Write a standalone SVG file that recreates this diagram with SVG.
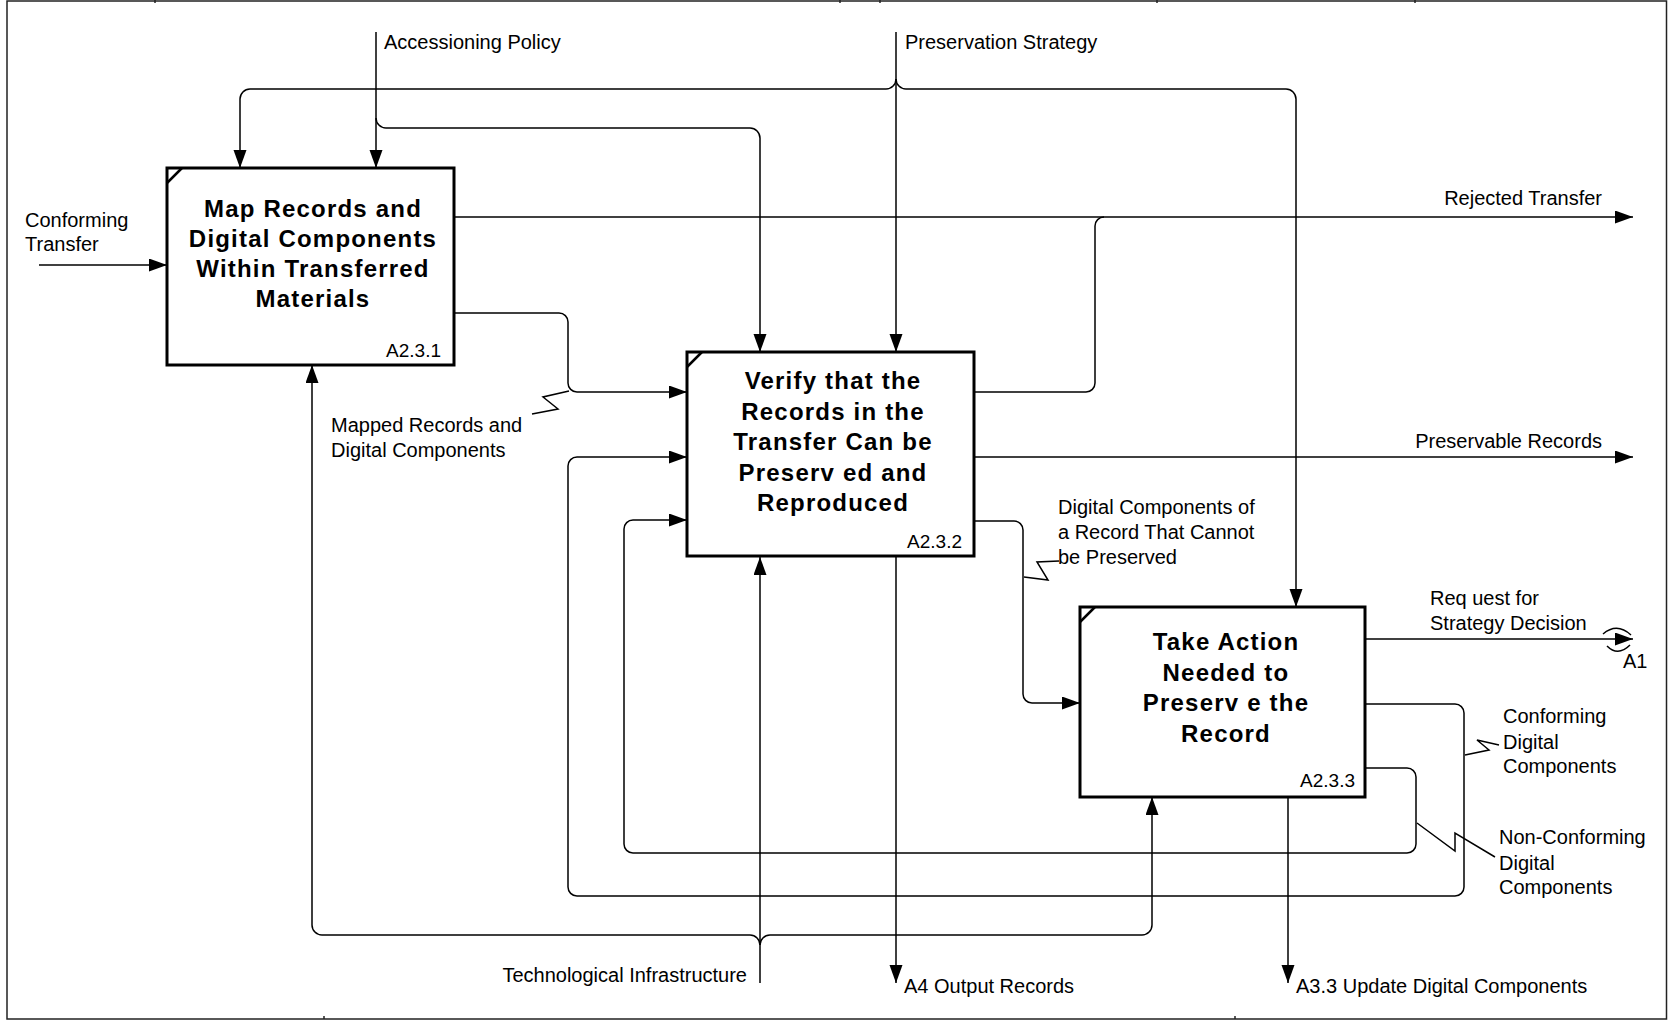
<svg xmlns="http://www.w3.org/2000/svg" width="1669" height="1021" viewBox="0 0 1669 1021">
<style>
.frame{fill:none;stroke:#222;stroke-width:1.5}
.box{fill:#fff;stroke:#000;stroke-width:3}
.corner{fill:none;stroke:#000;stroke-width:2.5}
.c{fill:none;stroke:#000;stroke-width:1.5}
.a{marker-end:url(#arr)}
.title{font-family:"Liberation Sans",Arial,sans-serif;font-size:24px;font-weight:bold;text-anchor:middle;letter-spacing:1.2px;fill:#000}
.num{font-family:"Liberation Sans",Arial,sans-serif;font-size:19px;text-anchor:end;fill:#000}
.lbl{font-family:"Liberation Sans",Arial,sans-serif;font-size:20px;fill:#000}
.end{text-anchor:end}
</style>
<defs>
<marker id="arr" markerUnits="userSpaceOnUse" markerWidth="18" markerHeight="14" refX="18" refY="6.5" orient="auto">
<path d="M0,0 L18,6.5 L0,13 z" fill="#000"/>
</marker>
</defs>
<rect class="frame" x="7" y="1" width="1659.5" height="1018"/>
<g class="frame">
<line x1="155" y1="0" x2="155" y2="3"/>
<line x1="840" y1="0" x2="840" y2="3"/>
<line x1="880" y1="0" x2="880" y2="3"/>
<line x1="1157" y1="0" x2="1157" y2="3"/>
<line x1="1415" y1="0" x2="1415" y2="3"/>
<line x1="324" y1="1016" x2="324" y2="1019"/>
<line x1="1235" y1="1016" x2="1235" y2="1019"/>
</g>
<g id="connectors">
<path class="c a" d="M39,265 L167,265"/>
<path class="c a" d="M376,32 L376,168"/>
<path class="c a" d="M376,118 A10,10 0 0 0 386,128 L750,128 A10,10 0 0 1 760,138 L760,352"/>
<path class="c a" d="M896,32 L896,352"/>
<path class="c a" d="M896,79 A10,10 0 0 1 886,89 L250,89 A10,10 0 0 0 240,99 L240,168"/>
<path class="c a" d="M896,79 A10,10 0 0 0 906,89 L1286,89 A10,10 0 0 1 1296,99 L1296,607"/>
<path class="c a" d="M454,217 L1633,217"/>
<path class="c" d="M974,392 L1086,392 A9,9 0 0 0 1095,383 L1095,226 A9,9 0 0 1 1104,217"/>
<path class="c a" d="M454,313 L559,313 A9,9 0 0 1 568,322 L568,383 A9,9 0 0 0 577,392 L687,392"/>
<path class="c" d="M532,414 L558,409 L543,397 L569,391"/>
<path class="c a" d="M974,457 L1633,457"/>
<path class="c a" d="M974,521 L1014,521 A9,9 0 0 1 1023,530 L1023,694 A9,9 0 0 0 1032,703 L1080,703"/>
<path class="c" d="M1024,577 L1048,580 L1037,562 L1059,561"/>
<path class="c a" d="M1365,639 L1633,639"/>
<path class="c" d="M1603,634 Q1617,622 1631,635"/>
<path class="c" d="M1607,646 Q1618,657 1630,645"/>
<path class="c a" d="M1365,704 L1455,704 A9,9 0 0 1 1464,713 L1464,887 A9,9 0 0 1 1455,896 L577,896 A9,9 0 0 1 568,887 L568,466 A9,9 0 0 1 577,457 L687,457"/>
<path class="c" d="M1465,755 L1489,750 L1477,740 L1499,745"/>
<path class="c a" d="M1365,768 L1407,768 A9,9 0 0 1 1416,777 L1416,844 A9,9 0 0 1 1407,853 L633,853 A9,9 0 0 1 624,844 L624,529 A9,9 0 0 1 633,520 L687,520"/>
<path class="c" d="M1417,823 L1455,851 L1455,833 L1495,857"/>
<path class="c a" d="M760,983 L760,557"/>
<path class="c a" d="M760,945 A10,10 0 0 0 750,935 L322,935 A10,10 0 0 1 312,925 L312,365"/>
<path class="c a" d="M760,945 A10,10 0 0 1 770,935 L1142,935 A10,10 0 0 0 1152,925 L1152,797"/>
<path class="c a" d="M896,557 L896,983"/>
<path class="c a" d="M1288,797 L1288,983"/>
</g>
<g id="node-A231">
<rect class="box" x="167" y="168" width="287" height="197"/>
<path class="corner" d="M167,183 L182,168"/>
<text class="title" x="313" y="217">Map Records and</text>
<text class="title" x="313" y="247">Digital Components</text>
<text class="title" x="313" y="277">Within Transferred</text>
<text class="title" x="313" y="307">Materials</text>
<text class="num" x="441" y="357">A2.3.1</text>
</g>
<g id="node-A232">
<rect class="box" x="687" y="352" width="287" height="204"/>
<path class="corner" d="M687,367 L702,352"/>
<text class="title" x="833" y="389">Verify that the</text>
<text class="title" x="833" y="419.5">Records in the</text>
<text class="title" x="833" y="450">Transfer Can be</text>
<text class="title" x="833" y="480.5">Preserv ed and</text>
<text class="title" x="833" y="511">Reproduced</text>
<text class="num" x="962" y="548">A2.3.2</text>
</g>
<g id="node-A233">
<rect class="box" x="1080" y="607" width="285" height="190"/>
<path class="corner" d="M1080,622 L1095,607"/>
<text class="title" x="1226" y="650">Take Action</text>
<text class="title" x="1226" y="680.5">Needed to</text>
<text class="title" x="1226" y="711">Preserv e the</text>
<text class="title" x="1226" y="741.5">Record</text>
<text class="num" x="1355" y="787">A2.3.3</text>
</g>
<g id="labels">
<text class="lbl" x="25" y="227">Conforming</text>
<text class="lbl" x="25" y="251">Transfer</text>
<text class="lbl" x="384" y="49">Accessioning Policy</text>
<text class="lbl" x="905" y="49">Preservation Strategy</text>
<text class="lbl end" x="1602" y="205">Rejected Transfer</text>
<text class="lbl end" x="1602" y="448">Preservable Records</text>
<text class="lbl" x="331" y="432">Mapped Records and</text>
<text class="lbl" x="331" y="457">Digital Components</text>
<text class="lbl" x="1058" y="514">Digital Components of</text>
<text class="lbl" x="1058" y="539">a Record That Cannot</text>
<text class="lbl" x="1058" y="564">be Preserved</text>
<text class="lbl" x="1430" y="605">Req uest for</text>
<text class="lbl" x="1430" y="630">Strategy Decision</text>
<text class="lbl" x="1623" y="668">A1</text>
<text class="lbl" x="1503" y="723">Conforming</text>
<text class="lbl" x="1503" y="749">Digital</text>
<text class="lbl" x="1503" y="773">Components</text>
<text class="lbl" x="1499" y="844">Non-Conforming</text>
<text class="lbl" x="1499" y="870">Digital</text>
<text class="lbl" x="1499" y="894">Components</text>
<text class="lbl end" x="747" y="982">Technological Infrastructure</text>
<text class="lbl" x="904" y="993">A4 Output Records</text>
<text class="lbl" x="1296" y="993">A3.3 Update Digital Components</text>
</g>
</svg>
